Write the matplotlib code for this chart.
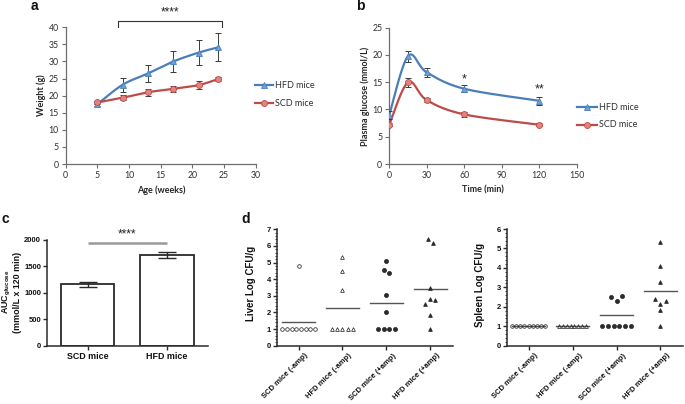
import numpy as np
import matplotlib
matplotlib.use("Agg")
import matplotlib.pyplot as plt
from matplotlib.lines import Line2D
from matplotlib.ticker import MultipleLocator, AutoMinorLocator
from matplotlib.transforms import ScaledTranslation

# ---------------- data ----------------
age_weeks = [5, 9, 13, 17, 21, 24]
hfd_weight = [17.5, 23.2, 26.5, 30.0, 32.6, 34.1]
hfd_weight_err = [0.6, 2.1, 2.4, 3.0, 3.6, 4.1]
scd_weight = [18.0, 19.4, 21.0, 22.0, 23.1, 24.8]
scd_weight_err = [0.4, 0.7, 1.0, 0.9, 1.2, 0.6]

time_min = [0, 15, 30, 60, 120]
hfd_glucose = [9.0, 19.8, 16.8, 13.8, 11.6]
hfd_glucose_err = [0.8, 1.0, 0.8, 0.6, 0.7]
scd_glucose = [7.2, 15.0, 11.7, 9.1, 7.2]
scd_glucose_err = [0.3, 0.8, 0.4, 0.4, 0.3]

auc_groups = ["SCD mice", "HFD mice"]
auc_values = [1160, 1715]
auc_err = [40, 50]

cfu_groups = ["SCD mice (-amp)", "HFD mice (-amp)", "SCD mice (+amp)", "HFD mice (+amp)"]
liver_scd_noamp = [1, 1, 1, 1, 1, 1, 1, 1, 4.8]
liver_hfd_noamp = [1, 1, 1, 1, 1, 3.35, 4.5, 5.35]
liver_scd_amp = [1, 1, 1, 1, 2.0, 3.05, 4.58, 4.38, 5.08]
liver_hfd_amp = [1.0, 1.85, 2.5, 2.82, 2.75, 3.5, 6.4, 6.15]
liver_means = [1.42, 2.28, 2.55, 3.38]

spleen_scd_noamp = [1, 1, 1, 1, 1, 1, 1, 1, 1]
spleen_hfd_noamp = [1, 1, 1, 1, 1, 1, 1, 1]
spleen_scd_amp = [1, 1, 1, 1, 1, 1, 2.52, 2.3, 2.55]
spleen_hfd_amp = [1.0, 1.85, 2.4, 2.15, 2.3, 3.25, 4.1, 5.35]
spleen_means = [1.0, 1.0, 1.6, 2.82]

# ---------------- helpers ----------------
W, H = 685, 404
def fx(px): return px / W
def fy(py): return 1 - py / H
def rect(l, t, r, b): return [fx(l), fy(b), (r - l) / W, (b - t) / H]

def excel_smooth(x, y, n=40):
    P = np.column_stack([x, y]).astype(float)
    out = []
    for i in range(len(P) - 1):
        p0 = P[i - 1] if i > 0 else P[i]
        p1, p2 = P[i], P[i + 1]
        p3 = P[i + 2] if i + 2 < len(P) else P[i + 1]
        c1 = p1 + (p2 - p0) / 6
        c2 = p2 - (p3 - p1) / 6
        t = np.linspace(0, 1, n)[:, None]
        seg = (1 - t) ** 3 * p1 + 3 * (1 - t) ** 2 * t * c1 + 3 * (1 - t) * t ** 2 * c2 + t ** 3 * p2
        out.append(seg if i == 0 else seg[1:])
    S = np.vstack(out)
    return S[:, 0], S[:, 1]

def spread(vals, tie_step, near_step=0.12, tol=0.28):
    vals = np.asarray(vals, float)
    order = np.argsort(vals, kind="stable")
    groups, cur = [], [order[0]]
    for a, b in zip(order[:-1], order[1:]):
        if vals[b] - vals[a] <= tol:
            cur.append(b)
        else:
            groups.append(cur); cur = [b]
    groups.append(cur)
    off = np.zeros(len(vals))
    for g in groups:
        g = sorted(g)
        n = len(g)
        step = tie_step if np.ptp(vals[g]) == 0 else near_step
        for k, idx in enumerate(g):
            off[idx] = (k - (n - 1) / 2) * step
    return off

EX_FONT = ["Lato", "DejaVu Sans"]
GP_FONT = ["Liberation Sans", "DejaVu Sans"]
plt.rcParams["mathtext.fontset"] = "custom"
plt.rcParams["mathtext.rm"] = "Liberation Sans:bold"
plt.rcParams["mathtext.it"] = "Liberation Sans:bold"
plt.rcParams["mathtext.bf"] = "Liberation Sans:bold"

BLUE, BLUE_M = "#4a7ebb", "#6f9fd8"
RED, RED_M = "#be4b48", "#e6827e"
EX_AX = "#6e6e6e"
GP = "#2a2a2a"

fig = plt.figure(figsize=(6.85, 4.04), dpi=100)
fig.patch.set_facecolor("white")

def excel_axes(ax):
    for s in ["top", "right"]:
        ax.spines[s].set_visible(False)
    for s in ["left", "bottom"]:
        ax.spines[s].set_color(EX_AX)
        ax.spines[s].set_linewidth(0.9)
    ax.tick_params(direction="out", length=3, width=0.8, color=EX_AX,
                   labelsize=6.3, labelcolor="#303030", pad=2)
    for lab in ax.get_xticklabels() + ax.get_yticklabels():
        lab.set_family(EX_FONT)

def gp_axes(ax):
    for s in ["top", "right"]:
        ax.spines[s].set_visible(False)
    for s in ["left", "bottom"]:
        ax.spines[s].set_color(GP)
        ax.spines[s].set_linewidth(1.1)
    ax.tick_params(direction="out", length=3, width=1.0, color=GP,
                   labelsize=5.5, labelcolor="#111111", pad=1.2)
    for lab in ax.get_xticklabels() + ax.get_yticklabels():
        lab.set_family(GP_FONT); lab.set_fontweight("bold")

def excel_series(ax, x, y, err, color, mcolor, marker, ms):
    sx, sy = excel_smooth(x, y)
    ax.plot(sx, sy, color=color, lw=1.6, zorder=3, solid_capstyle="round")
    ax.errorbar(x, y, yerr=err, fmt="none", ecolor="#3a3a3a", elinewidth=0.7,
                capsize=2.2, capthick=0.7, zorder=4)
    ax.plot(x, y, linestyle="none", marker=marker, ms=ms, mfc=mcolor, mec=color,
            mew=0.6, zorder=5)

def legend_entry(xl, xr, ypx, color, mcolor, marker, ms, label):
    fig.add_artist(Line2D([fx(xl), fx(xr)], [fy(ypx), fy(ypx)], color=color, lw=1.6,
                          transform=fig.transFigure))
    fig.add_artist(Line2D([fx((xl + xr) / 2)], [fy(ypx)], marker=marker, ms=ms, mfc=mcolor,
                          mec=color, mew=0.6, linestyle="none", transform=fig.transFigure))
    fig.text(fx(xr + 2), fy(ypx), label, fontsize=6.5, family=EX_FONT, color="#303030",
             va="center", ha="left")

# ---------------- panel a ----------------
axa = fig.add_axes(rect(65.7, 27.3, 255.7, 164))
excel_series(axa, age_weeks, hfd_weight, hfd_weight_err, BLUE, BLUE_M, "^", 4.6)
excel_series(axa, age_weeks, scd_weight, scd_weight_err, RED, RED_M, "o", 4.3)
axa.set_xlim(0, 30); axa.set_ylim(0, 40)
axa.xaxis.set_major_locator(MultipleLocator(5))
axa.yaxis.set_major_locator(MultipleLocator(5))
excel_axes(axa)
axa.plot([8.3, 8.3, 24.7, 24.7], [40.1, 41.8, 41.8, 40.1], color="#333333", lw=0.8,
         clip_on=False)
axa.text(16.5, 44.3, "****", ha="center", va="center", fontsize=8.5, family=GP_FONT,
         color="#222222")
fig.text(fx(41), fy(95.5), "Weight (g)", rotation=90, ha="center", va="center",
         fontsize=6.5, fontweight="bold", family=EX_FONT, color="#262626")
fig.text(fx(161), fy(190), "Age (weeks)", ha="center", va="center",
         fontsize=6.5, fontweight="bold", family=EX_FONT, color="#262626")
legend_entry(255, 273, 85, BLUE, BLUE_M, "^", 4.6, "HFD mice")
legend_entry(255, 273, 103, RED, RED_M, "o", 4.3, "SCD mice")

# ---------------- panel b ----------------
axb = fig.add_axes(rect(389.3, 27.7, 576.7, 164))
excel_series(axb, time_min, hfd_glucose, hfd_glucose_err, BLUE, BLUE_M, "^", 4.6)
excel_series(axb, time_min, scd_glucose, scd_glucose_err, RED, RED_M, "o", 4.3)
axb.set_xlim(0, 150); axb.set_ylim(0, 25)
axb.xaxis.set_major_locator(MultipleLocator(30))
axb.yaxis.set_major_locator(MultipleLocator(5))
excel_axes(axb)
axb.text(60, 15.6, "*", ha="center", va="center", fontsize=9, family=GP_FONT, color="#222")
axb.text(120, 13.75, "**", ha="center", va="center", fontsize=9, family=GP_FONT, color="#222")
fig.text(fx(365), fy(96), "Plasma glucose (mmol/L)", rotation=90, ha="center", va="center",
         fontsize=6.5, fontweight="bold", family=EX_FONT, color="#262626")
fig.text(fx(482.7), fy(189.5), "Time (min)", ha="center", va="center",
         fontsize=6.5, fontweight="bold", family=EX_FONT, color="#262626")
legend_entry(577, 597, 107, BLUE, BLUE_M, "^", 4.6, "HFD mice")
legend_entry(577, 597, 124.5, RED, RED_M, "o", 4.3, "SCD mice")

# ---------------- panel c ----------------
axc = fig.add_axes(rect(47, 240, 208, 345.7))
xc = np.arange(len(auc_groups))
axc.bar(xc, auc_values, width=0.675, color="white", edgecolor=GP, linewidth=1.3, zorder=2)
axc.errorbar(xc, auc_values, yerr=auc_err, fmt="none", ecolor=GP, elinewidth=1.0,
             capsize=6.5, capthick=1.0, zorder=3)
axc.set_xlim(-0.51, 1.516); axc.set_ylim(0, 2000)
axc.set_xticks(xc); axc.set_xticklabels(auc_groups)
axc.yaxis.set_major_locator(MultipleLocator(500))
gp_axes(axc)
axc.tick_params(axis="x", labelsize=6.4)
for lab in axc.get_xticklabels():
    lab.set_family(GP_FONT); lab.set_fontweight("bold")
axc.plot([0, 1], [1950, 1950], color="#9a9a9a", lw=1.8, clip_on=False, solid_capstyle="butt")
axc.text(0.5, 2113, "****", ha="center", va="center", fontsize=8.5, family=GP_FONT,
         color="#222222", clip_on=False)
fig.text(fx(11.5), fy(292), r"$\mathrm{AUC}_{\mathrm{glucose}}$" + "\n(mmol/L x 120 min)",
         rotation=90, ha="center", va="center", fontsize=6.4, fontweight="bold",
         family=GP_FONT, color="#111111", linespacing=1.1, multialignment="center")

# ---------------- panel d ----------------
def cfu_panel(box, groups_vals, means, ymax, ylabel, label_xy, tie_steps):
    ax = fig.add_axes(rect(*box))
    markers = [("o", "none", 2.6), ("^", "none", 2.7), ("o", GP, 2.9), ("^", GP, 2.7)]
    for i, vals in enumerate(groups_vals):
        off = spread(vals, tie_steps[i])
        m, fc, ms = markers[i]
        ax.plot(i + off, vals, linestyle="none", marker=m, ms=ms, mfc=fc, mec=GP,
                mew=0.55, zorder=3, clip_on=False)
        ax.plot([i - 0.38, i + 0.38], [means[i], means[i]], color="#555555", lw=1.0, zorder=2)
    ax.set_xlim(-0.5, 3.52); ax.set_ylim(0, ymax)
    ax.set_xticks(range(len(cfu_groups)))
    ax.set_xticklabels(cfu_groups, rotation=45, ha="right", va="top", rotation_mode="anchor")
    ax.yaxis.set_major_locator(MultipleLocator(1))
    ax.yaxis.set_minor_locator(AutoMinorLocator(5))
    gp_axes(ax)
    ax.tick_params(axis="y", which="minor", direction="out", length=1.6, width=0.6, color=GP)
    ax.tick_params(axis="x", labelsize=5.5, pad=1.5)
    shift = ScaledTranslation(6 / 100, 0, fig.dpi_scale_trans)
    for lab in ax.get_xticklabels():
        lab.set_family(GP_FONT); lab.set_fontweight("bold")
        lab.set_transform(lab.get_transform() + shift)
    fig.text(fx(label_xy[0]), fy(label_xy[1]), ylabel, rotation=90, ha="center", va="center",
             fontsize=7, fontweight="bold", family=GP_FONT, color="#111111")
    return ax

cfu_panel((276.7, 229.3, 453, 345.7),
          [liver_scd_noamp, liver_hfd_noamp, liver_scd_amp, liver_hfd_amp],
          liver_means, 7, "Liver Log CFU/g", (251, 283), [0.107, 0.125, 0.127, 0.12])
cfu_panel((506.7, 229, 683.3, 345.7),
          [spleen_scd_noamp, spleen_hfd_noamp, spleen_scd_amp, spleen_hfd_amp],
          spleen_means, 6, "Spleen Log CFU/g", (480, 285), [0.095, 0.086, 0.13, 0.12])

# ---------------- panel letters ----------------
for txt, x, y in [("a", 31, 10.3), ("b", 356.5, 10.3), ("c", 1.5, 222.7), ("d", 241.5, 222.7)]:
    fig.text(fx(x), fy(y), txt, ha="left", va="baseline", fontsize=10, fontweight="bold",
             family=GP_FONT, color="#111111")

fig.savefig("out.png", dpi=100)
